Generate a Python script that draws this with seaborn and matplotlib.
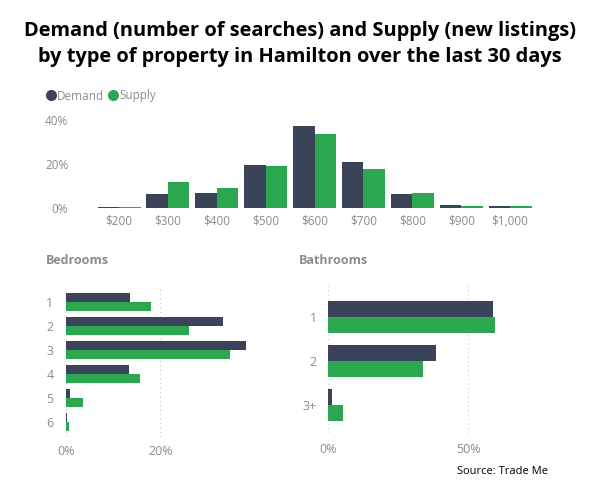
import matplotlib
matplotlib.use("Agg")
import matplotlib.pyplot as plt
from matplotlib.lines import Line2D
import seaborn as sns
import pandas as pd

# ---------------- data ----------------
price_labels = ["$200", "$300", "$400", "$500", "$600", "$700", "$800", "$900", "$1,000"]
price_demand = [0.6, 6.2, 7.0, 19.4, 37.1, 21.1, 6.5, 1.5, 1.1]
price_supply = [0.6, 12.0, 9.2, 19.1, 33.8, 17.9, 7.0, 0.9, 0.8]

bed_labels = ["1", "2", "3", "4", "5", "6"]
bed_demand = [13.5, 33.2, 38.1, 13.3, 0.9, 0.2]
bed_supply = [18.0, 26.1, 34.8, 15.7, 3.5, 0.7]

bath_labels = ["1", "2", "3+"]
bath_demand = [58.9, 38.6, 1.4]
bath_supply = [59.6, 33.8, 5.6]

series_names = ["Demand", "Supply"]
title_text = "Demand (number of searches) and Supply (new listings)\nby type of property in Hamilton over the last 30 days"
source_text = "Source: Trade Me"

DEMAND_C = "#3b4358"
SUPPLY_C = "#2ba84f"
GRAY = "#8c8c8c"
palette = {"Demand": DEMAND_C, "Supply": SUPPLY_C}


def long_df(labels, d, s, cat):
    return pd.DataFrame({
        cat: labels * 2,
        "value": d + s,
        "series": [series_names[0]] * len(labels) + [series_names[1]] * len(labels),
    })


price_df = long_df(price_labels, price_demand, price_supply, "price")
bed_df = long_df(bed_labels, bed_demand, bed_supply, "bed")
bath_df = long_df(bath_labels, bath_demand, bath_supply, "bath")

sns.set_theme(style="white")
plt.rcParams["font.family"] = ["Open Sans", "DejaVu Sans"]

W, H = 600, 503
fig = plt.figure(figsize=(W / 100, H / 100), dpi=100)
fig.patch.set_facecolor("white")


def px_axes(left, top, right, bottom):
    return fig.add_axes([left / W, 1 - bottom / H, (right - left) / W, (bottom - top) / H])


# ---------------- top chart ----------------
ax1 = px_axes(94.6, 115.6, 534.6, 208)
sns.barplot(data=price_df, x="price", y="value", hue="series", palette=palette,
            width=0.88, gap=0, ax=ax1, legend=False, saturation=1, linewidth=0)
ax1.set_ylim(0, 42)
ax1.set_xlim(-0.5, 8.5)
ax1.set_yticks([0, 20, 40])
ax1.set_yticklabels(["0%", "20%", "40%"])
ax1.set_xlabel("")
ax1.set_ylabel("")
for s in ax1.spines.values():
    s.set_visible(False)
ax1.tick_params(axis="y", length=0, pad=19, labelsize=8.5, labelcolor=GRAY)
ax1.tick_params(axis="x", length=0, pad=5, labelsize=8.5, labelcolor=GRAY)
ax1.grid(False)

handles = [Line2D([0], [0], marker="o", color="none", markerfacecolor=palette[n],
                  markeredgecolor="none", markersize=8) for n in series_names]
fig.legend(handles, series_names, loc="center left", bbox_to_anchor=(46 / W, 1 - 96 / H),
           ncol=2, frameon=False, handletextpad=0.15, columnspacing=0.3,
           handlelength=0.8, borderaxespad=0, borderpad=0,
           prop={"size": 8.5}, labelcolor=GRAY)

# ---------------- bedrooms ----------------
ax2 = px_axes(66, 287, 250, 437)
sns.barplot(data=bed_df, y="bed", x="value", hue="series", palette=palette, orient="h",
            width=0.77, gap=0, ax=ax2, legend=False, saturation=1, linewidth=0)
ax2.set_xlim(0, 39)
ax2.set_ylim(5.63, -0.62)
ax2.set_xticks([0, 20])
ax2.set_xticklabels(["0%", "20%"])
ax2.set_xlabel("")
ax2.set_ylabel("")
for s in ax2.spines.values():
    s.set_visible(False)
ax2.tick_params(axis="y", length=0, pad=9, labelsize=9, labelcolor=GRAY)
ax2.tick_params(axis="x", length=0, pad=6, labelsize=9, labelcolor=GRAY)
ax2.grid(False)
for xv in [0, 20]:
    ax2.axvline(xv, color="#c8c8c8", linestyle=(0, (1, 3)), linewidth=0.8, zorder=0)
fig.text(46 / W, 1 - 261 / H, "Bedrooms", ha="left", va="center", fontsize=9,
         fontweight="bold", color=GRAY)

# ---------------- bathrooms ----------------
ax3 = px_axes(327.7, 285, 538.6, 433)
sns.barplot(data=bath_df, y="bath", x="value", hue="series", palette=palette, orient="h",
            width=0.73, gap=0, ax=ax3, legend=False, saturation=1, linewidth=0)
ax3.set_xlim(0, 75)
ax3.set_ylim(2.64, -0.73)
ax3.set_xticks([0, 50])
ax3.set_xticklabels(["0%", "50%"])
ax3.set_xlabel("")
ax3.set_ylabel("")
for s in ax3.spines.values():
    s.set_visible(False)
ax3.tick_params(axis="y", length=0, pad=8, labelsize=9, labelcolor=GRAY)
ax3.tick_params(axis="x", length=0, pad=7, labelsize=9, labelcolor=GRAY)
ax3.grid(False)
for xv in [0, 50]:
    ax3.axvline(xv, color="#c8c8c8", linestyle=(0, (1, 3)), linewidth=0.8, zorder=0)
fig.text(299 / W, 1 - 261 / H, "Bathrooms", ha="left", va="center", fontsize=9,
         fontweight="bold", color=GRAY)

# ---------------- title & source ----------------
fig.text(0.5, 1 - 44 / H, title_text, ha="center", va="center", fontsize=14.4,
         fontweight="bold", color="black", linespacing=1.35,
         family=["Open Sans", "DejaVu Sans"])
fig.text(457 / W, 1 - 472 / H, source_text, ha="left", va="center", fontsize=8,
         color="black")

fig.savefig("out.png", dpi=100, facecolor="white")
